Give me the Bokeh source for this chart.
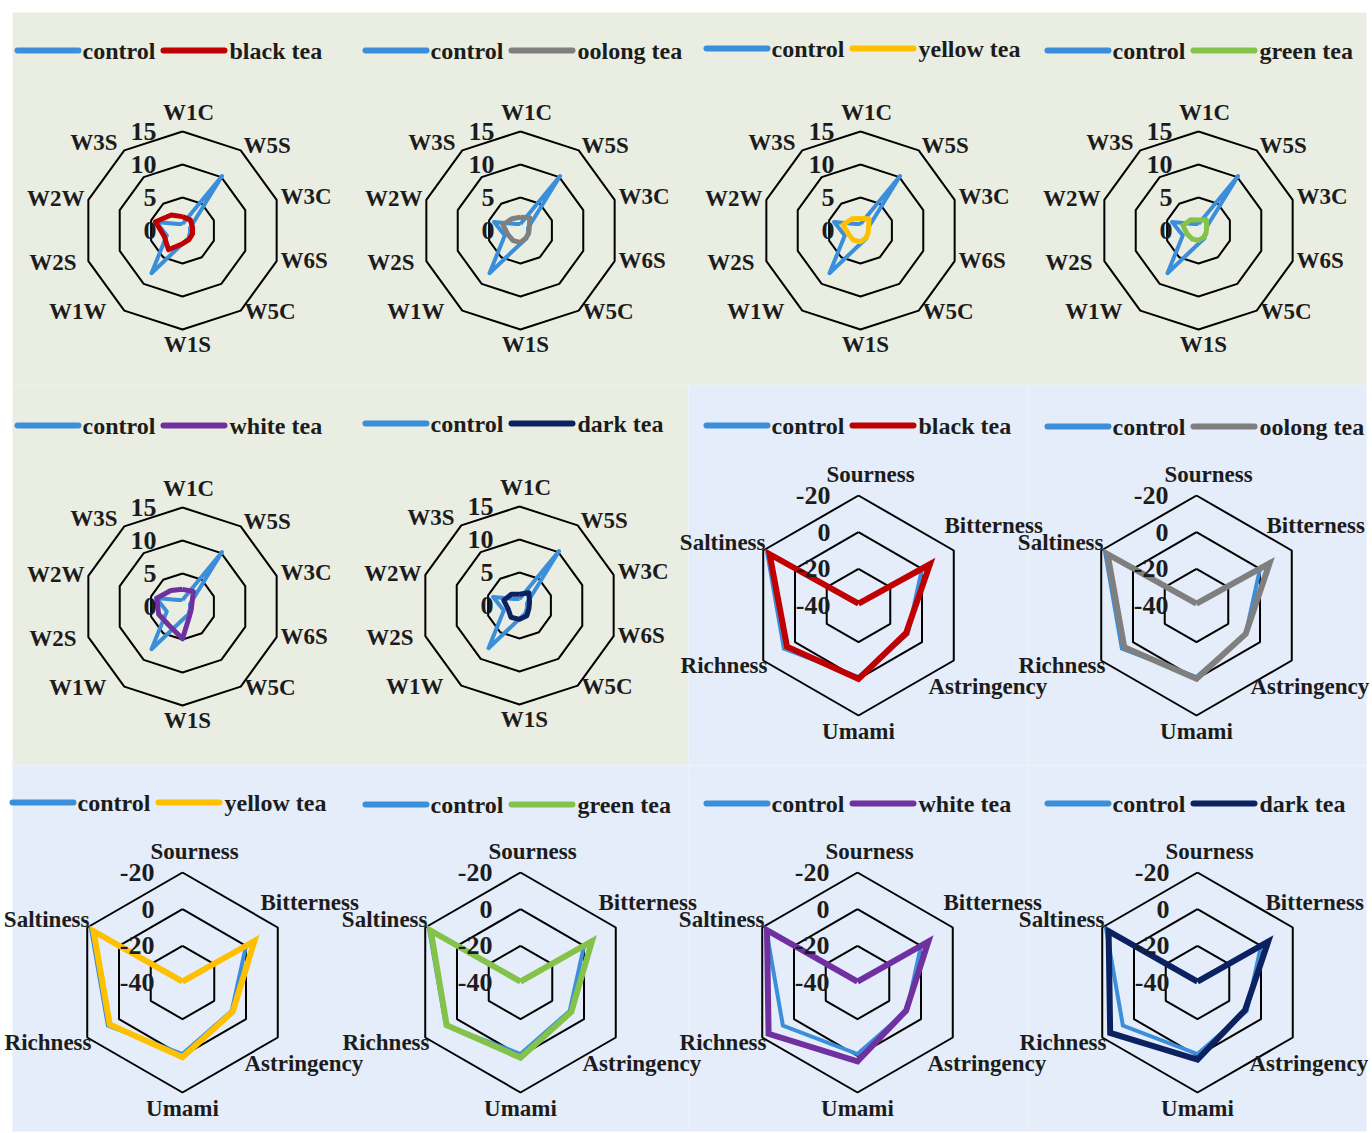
import math
from bokeh.plotting import figure
from bokeh.models import Range1d
from bokeh.core.properties import value
from bokeh.embed import file_html
from bokeh.resources import INLINE

# ---------------- data ----------------
# electronic nose: sensor responses (G/G0)
sensors = ["W1C", "W5S", "W3C", "W6S", "W5C", "W1S", "W1W", "W2S", "W2W", "W3S"]
nose_rings = [5, 10, 15]
nose_tick_values = [0, 5, 10, 15]
nose_tick_labels = ["0", "5", "10", "15"]

nose_control = [1.0, 10.2, 1.2, 1.2, 1.5, 2.0, 8.0, 2.5, 4.2, 1.2]
nose_black = [2.1, 2.0, 1.6, 1.6, 1.7, 2.0, 3.6, 2.9, 4.3, 2.9]
nose_oolong = [2.0, 2.4, 1.4, 1.3, 1.4, 1.8, 1.9, 2.0, 2.8, 2.2]
nose_yellow = [1.8, 2.2, 1.3, 1.2, 1.4, 1.7, 1.8, 1.9, 2.8, 2.2]
nose_green = [1.6, 2.0, 1.3, 1.2, 1.3, 1.5, 1.6, 1.8, 2.5, 2.0]
nose_white = [2.6, 2.8, 1.5, 1.4, 1.8, 4.9, 3.5, 3.8, 4.1, 3.0]
nose_dark = [1.7, 2.4, 1.6, 1.5, 1.9, 2.1, 2.2, 1.8, 2.5, 2.1]

# electronic tongue: taste values
tastes = ["Sourness", "Bitterness", "Astringency", "Umami", "Richness", "Saltiness"]
tongue_rings = [-20, 0, 20]
tongue_tick_values = [-40, -20, 0, 20]
tongue_tick_labels = ["-40", "-20", "0", "-20"]

tongue_control = [-39.0, 0.0, -9.0, -1.0, 7.0, 17.5]
tongue_black = [-39.0, 5.0, -10.0, 0.0, 5.0, 16.0]
tongue_oolong = [-39.0, 6.0, -9.0, 0.0, 5.5, 16.0]
tongue_yellow = [-39.5, 5.3, -8.3, 0.7, 5.8, 16.0]
tongue_green = [-39.5, 5.0, -8.0, 1.0, 6.5, 16.5]
tongue_white = [-39.5, 4.6, -9.4, 3.0, 16.0, 17.0]
tongue_dark = [-39.5, 4.5, -10.0, 2.0, 15.0, 16.0]

tea_names = ["black tea", "oolong tea", "yellow tea", "green  tea", "white tea", "dark tea"]
tea_colors = ["#c00000", "#7f7f7f", "#ffc000", "#84c24a", "#7030a0", "#0b2160"]
control_color = "#3b8fda"

nose_series = [nose_black, nose_oolong, nose_yellow, nose_green, nose_white, nose_dark]
tongue_series = [tongue_black, tongue_oolong, tongue_yellow, tongue_green, tongue_white, tongue_dark]

# ---------------- layout / style ----------------
W, H = 1372, 1133
FONT = value("Liberation Serif")
INK = "#1c1c1c"

nose_centers = [(182, 230), (520, 230), (860, 230), (1198, 230), (182, 606), (519, 605)]
tongue_centers = [(858, 605), (1196, 605), (182, 982), (520, 982), (857, 982), (1197, 982)]
# horizontal nudge of the right-hand labels per tongue panel
tongue_right_pull = [-8, 8, 0, 0, -8, 10]
nose_px = 99.0 / 15.0          # pixels per sensor unit
tongue_px = 110.0 / 60.0       # pixels per taste unit
tongue_origin = -40.0

legend_slots = [(17, 50), (365, 50), (706, 48), (1047, 50),
                (17, 425), (365, 423), (706, 425), (1047, 426),
                (12, 802), (365, 804), (706, 803), (1047, 803)]

nose_label_pos = {
    "W1C": (6, -118, "center"), "W5S": (61, -85, "left"), "W3C": (98, -34, "left"),
    "W6S": (98, 30, "left"), "W5C": (62, 81, "left"), "W1S": (5, 114, "center"),
    "W1W": (-76, 81, "right"), "W2S": (-106, 32, "right"), "W2W": (-98, -32, "right"),
    "W3S": (-65, -88, "right"),
}
tongue_label_pos = {
    "Sourness": (12, -131, "center"), "Bitterness": (78, -80, "left"),
    "Astringency": (62, 81, "left"), "Umami": (0, 126, "center"),
    "Richness": (-91, 60, "right"), "Saltiness": (-93, -63, "right"),
}

p = figure(width=W, height=H, output_backend="svg", toolbar_location=None,
           x_range=Range1d(0, W), y_range=Range1d(H, 0), min_border=0)
p.axis.visible = False
p.grid.visible = False
p.outline_line_color = None
p.background_fill_color = "white"
p.border_fill_color = "white"

# panel backgrounds
p.quad(left=[12, 12], right=[1366, 688], top=[12, 385], bottom=[385, 765],
       fill_color="#eaede1", line_color=None)
p.quad(left=[688, 12], right=[1366, 1366], top=[385, 765], bottom=[765, 1131],
       fill_color="#e4edf9", line_color=None)
# faint seams between the tongue panels
p.segment(x0=[1027, 688, 1027, 12], y0=[388, 768, 768, 765],
          x1=[1027, 688, 1027, 1366], y1=[765, 1131, 1131, 765],
          line_color="#edf2fa", line_width=2)


def polar(cx, cy, radii):
    n = len(radii)
    xs = [cx + r * math.sin(2 * math.pi * k / n) for k, r in enumerate(radii)]
    ys = [cy - r * math.cos(2 * math.pi * k / n) for k, r in enumerate(radii)]
    return xs + xs[:1], ys + ys[:1]


def text(xs, ys, labels, size, align="left"):
    p.text(x=xs, y=ys, text=labels, text_font=FONT, text_font_style="bold",
           text_font_size=size, text_color=INK, text_align=align,
           text_baseline="middle")


def legend(slot, name, color):
    x0, y0 = slot
    p.line([x0, x0 + 61], [y0, y0], line_color=control_color, line_width=6, line_cap="round")
    text([x0 + 65], [y0], ["control"], "24px")
    p.line([x0 + 146, x0 + 207], [y0, y0], line_color=color, line_width=6, line_cap="round")
    text([x0 + 212], [y0], [name], "24px")


def nose_panel(center, series, color):
    cx, cy = center
    n = len(sensors)
    for ring in nose_rings:
        xs, ys = polar(cx, cy, [ring * nose_px] * n)
        p.line(xs, ys, line_color="black", line_width=2)
    xs, ys = polar(cx, cy, [v * nose_px for v in nose_control])
    p.line(xs, ys, line_color=control_color, line_width=4, line_join="round")
    xs, ys = polar(cx, cy, [v * nose_px for v in series])
    p.line(xs, ys, line_color=color, line_width=5, line_join="round")
    for name in sensors:
        dx, dy, al = nose_label_pos[name]
        text([cx + dx], [cy + dy], [name], "23px", al)
    text([cx - 26] * len(nose_tick_values),
         [cy - v * nose_px for v in nose_tick_values], nose_tick_labels, "26px", "right")


def tongue_panel(center, series, color, pull):
    cx, cy = center
    n = len(tastes)
    for ring in tongue_rings:
        xs, ys = polar(cx, cy, [(ring - tongue_origin) * tongue_px] * n)
        p.line(xs, ys, line_color="black", line_width=2)
    xs, ys = polar(cx, cy, [(v - tongue_origin) * tongue_px for v in tongue_control])
    p.line(xs, ys, line_color=control_color, line_width=4, line_join="miter")
    xs, ys = polar(cx, cy, [(v - tongue_origin) * tongue_px for v in series])
    p.line(xs, ys, line_color=color, line_width=6, line_join="miter")
    for name in tastes:
        dx, dy, al = tongue_label_pos[name]
        if al == "left":
            dx -= pull
        text([cx + dx], [cy + dy], [name], "23px", al)
    text([cx - 28] * len(tongue_tick_values),
         [cy - (v - tongue_origin) * tongue_px for v in tongue_tick_values],
         tongue_tick_labels, "26px", "right")


for i in range(6):
    nose_panel(nose_centers[i], nose_series[i], tea_colors[i])
    legend(legend_slots[i], tea_names[i], tea_colors[i])
for i in range(6):
    tongue_panel(tongue_centers[i], tongue_series[i], tea_colors[i], tongue_right_pull[i])
    legend(legend_slots[6 + i], tea_names[i], tea_colors[i])

open("out.html", "w").write(file_html(p, INLINE))
